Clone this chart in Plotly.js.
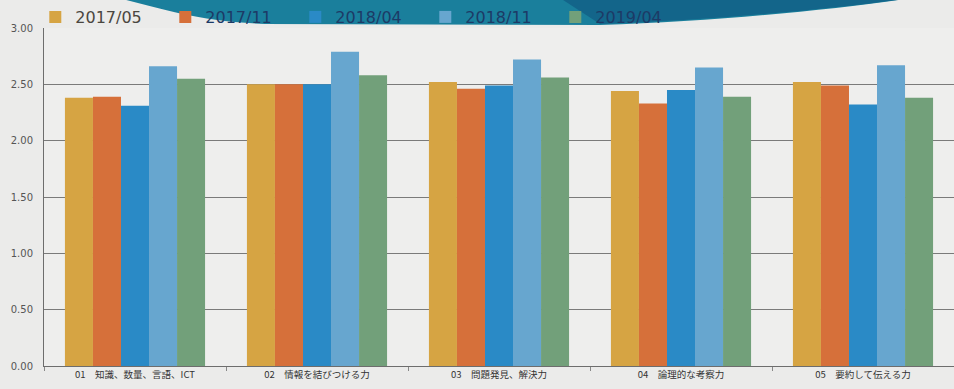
<!DOCTYPE html>
<html>
<head>
<meta charset="utf-8">
<script src="https://cdn.plot.ly/plotly-3.0.1.min.js"></script>
<style>
  html, body { margin: 0; padding: 0; background: #ebebea; }
  #chart { width: 954px; height: 389px; }
</style>
</head>
<body>
<div id="chart"></div>
<script>
// Skill categories (x axis)
const categories = [
  "01　知識、数量、言語、ICT",
  "02　情報を結びつける力",
  "03　問題発見、解決力",
  "04　論理的な考察力",
  "05　要約して伝える力"
];

// Survey rounds
const rounds = ["2017/05", "2017/11", "2018/04", "2018/11", "2019/04"];
const roundColors = ["#d6a443", "#d6703a", "#2a8ac6", "#67a6cf", "#72a07a"];

// Average scores per round, one value per category
const scores2017_05 = [2.38, 2.50, 2.52, 2.44, 2.52];
const scores2017_11 = [2.39, 2.50, 2.46, 2.33, 2.49];
const scores2018_04 = [2.31, 2.50, 2.49, 2.45, 2.32];
const scores2018_11 = [2.66, 2.79, 2.72, 2.65, 2.67];
const scores2019_04 = [2.55, 2.58, 2.56, 2.39, 2.38];

const seriesValues = [scores2017_05, scores2017_11, scores2018_04, scores2018_11, scores2019_04];

// Y axis tick values and labels
const yTicks = [0, 0.5, 1, 1.5, 2, 2.5, 3];
const yTickLabels = ["0.00", "0.50", "1.00", "1.50", "2.00", "2.50", "3.00"];

const W = 954, H = 389;
const margin = { l: 44, r: 0, t: 28, b: 23, autoexpand: false };

const traces = rounds.map((name, i) => ({
  type: "bar",
  name: i === 0
    ? '<span style="color:#4a4640">' + name + '</span>'
    : name,
  x: categories,
  y: seriesValues[i],
  marker: { color: roundColors[i], line: { width: 0 } },
  hoverinfo: "x+y"
}));

// pixel -> paper helpers for the header banner
const plotW = W - margin.l - margin.r;
const plotH = H - margin.t - margin.b;
const px = v => ((v - margin.l) / plotW).toFixed(4);
const py = v => ((H - margin.b - v) / plotH).toFixed(4);

const bannerPath =
  "M" + px(118) + "," + py(-2) +
  " C" + px(160) + "," + py(8) + " " + px(195) + "," + py(21) + " " + px(265) + "," + py(24) +
  " L" + px(600) + "," + py(25) +
  " C" + px(720) + "," + py(21) + " " + px(840) + "," + py(9) + " " + px(912) + "," + py(-2) + " Z";

const bannerPathDark =
  "M" + px(560) + "," + py(-2) +
  " L" + px(600) + "," + py(24) +
  " C" + px(720) + "," + py(20) + " " + px(840) + "," + py(8) + " " + px(912) + "," + py(-2) + " Z";

const layout = {
  width: W,
  height: H,
  margin: margin,
  paper_bgcolor: "#ebebea",
  plot_bgcolor: "#eeeeed",
  barmode: "group",
  bargap: 0.23,
  bargroupgap: 0,
  font: { family: "'Noto Sans CJK JP', 'DejaVu Sans', sans-serif", color: "#444" },
  showlegend: true,
  legend: {
    orientation: "h",
    xref: "container",
    yref: "container",
    x: 0.037,
    y: 1.0,
    xanchor: "left",
    yanchor: "top",
    entrywidth: 85,
    entrywidthmode: "pixels",
    bgcolor: "rgba(0,0,0,0)",
    borderwidth: 0,
    font: { family: "'DejaVu Sans', sans-serif", size: 16, color: "#1d3a66" },
    itemclick: false,
    itemdoubleclick: false
  },
  xaxis: {
    type: "category",
    range: [-0.5, 4.5],
    showgrid: false,
    showline: true,
    linecolor: "#6d6d6d",
    linewidth: 1,
    ticks: "outside",
    tickson: "boundaries",
    ticklen: 4,
    tickcolor: "#888",
    tickfont: { family: "'Noto Sans CJK JP', sans-serif", size: 9.5, color: "#333" },
    fixedrange: true
  },
  yaxis: {
    range: [0, 3],
    tickvals: yTicks,
    ticktext: yTickLabels,
    showgrid: true,
    gridcolor: "#7a7a7a",
    gridwidth: 1,
    zeroline: false,
    showline: true,
    linecolor: "#6d6d6d",
    linewidth: 1,
    ticks: "",
    ticklabelstandoff: 8,
    tickfont: { family: "'DejaVu Sans', sans-serif", size: 10, color: "#555" },
    fixedrange: true
  },
  shapes: [
    {
      type: "path", xref: "paper", yref: "paper", layer: "above",
      path: bannerPath,
      fillcolor: "#1a7f9c",
      line: { width: 0 }
    },
    {
      type: "path", xref: "paper", yref: "paper", layer: "above",
      path: bannerPathDark,
      fillcolor: "#125f86",
      opacity: 0.8,
      line: { width: 0 }
    }
  ]
};

Plotly.newPlot("chart", traces, layout, { displayModeBar: false, staticPlot: true });
</script>
</body>
</html>
